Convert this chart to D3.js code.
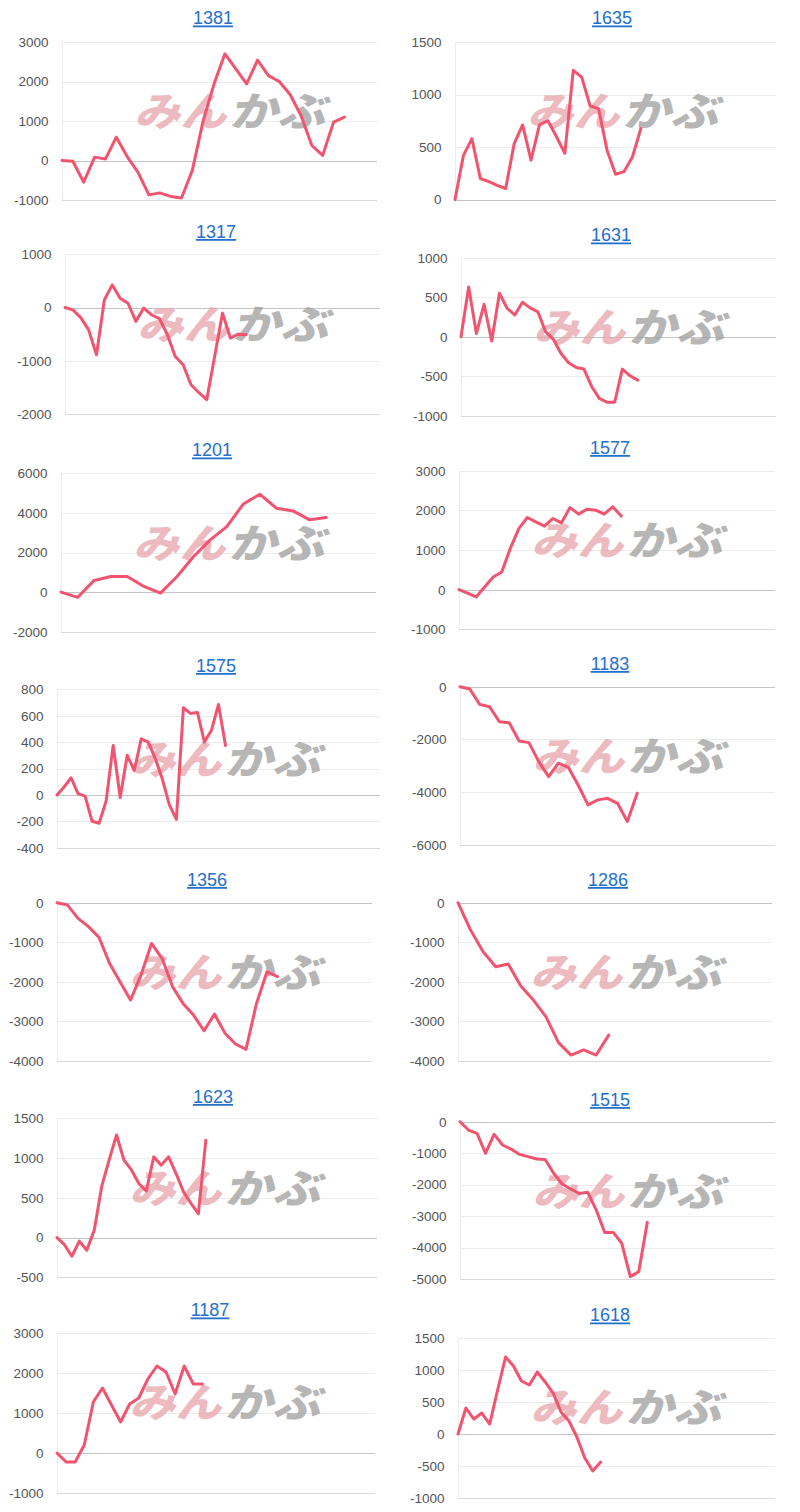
<!DOCTYPE html>
<html><head><meta charset="utf-8">
<script src="https://cdn.jsdelivr.net/npm/d3@7/dist/d3.min.js"></script>
<style>
html,body{margin:0;padding:0;background:#fff;}
svg{display:block;}
</style></head>
<body>
<svg id="c" width="800" height="1512"></svg>
<script>
// ---- data ----
const codes = ["1381","1635","1317","1631","1201","1577","1575","1183","1356","1286","1623","1515","1187","1618"];

const s1381 = [0,-20,-550,85,40,590,100,-300,-870,-820,-910,-950,-250,1010,1940,2700,2320,1940,2540,2150,2000,1670,1140,380,130,970,1100];
const s1635 = [0,420,580,200,170,135,105,530,710,375,710,750,600,440,1230,1165,890,865,470,240,265,405,675];
const s1317 = [0,-45,-190,-420,-890,145,425,175,80,-260,-10,-140,-210,-510,-920,-1075,-1450,-1600,-1730,-920,-105,-575,-500,-510];
const s1631 = [0,630,40,410,-55,550,360,275,435,365,315,65,-30,-210,-330,-390,-410,-630,-780,-830,-830,-410,-495,-550];
const s1201 = [0,-270,590,790,790,285,-50,790,1800,2640,3310,4450,4940,4235,4100,3650,3765];
const s1577 = [0,-90,-185,65,320,445,1035,1540,1820,1710,1600,1795,1685,2070,1905,2030,2005,1905,2090,1855];
const s1575 = [0,60,130,10,-10,-200,-215,-45,375,-20,300,185,425,400,275,120,-75,-185,660,617,625,400,490,685,375];
const s1183 = [0,-90,-670,-760,-1325,-1365,-2060,-2120,-2840,-3410,-2900,-3055,-3725,-4480,-4290,-4230,-4420,-5110,-4040];
const s1356 = [0,-60,-395,-605,-875,-1530,-2000,-2460,-1830,-1030,-1405,-2120,-2545,-2840,-3235,-2815,-3300,-3570,-3705,-2545,-1745,-1870];
const s1286 = [0,-690,-1240,-1620,-1550,-2105,-2460,-2880,-3535,-3850,-3720,-3850,-3345];
const s1623 = [0,-90,-235,-45,-160,90,640,975,1290,975,850,680,585,1015,910,1015,805,575,430,300,1225];
const s1515 = [0,-265,-370,-1005,-400,-740,-870,-1040,-1110,-1185,-1200,-1640,-1980,-2140,-2280,-2245,-2805,-3520,-3520,-3865,-4925,-4765,-3200];
const s1187 = [0,-225,-225,200,1275,1625,1200,775,1225,1375,1850,2175,2025,1475,2175,1725,1725];
const s1618 = [0,406,234,328,156,687,1203,1063,828,766,969,813,640,344,203,-47,-375,-578,-438];

const series = [s1381,s1635,s1317,s1631,s1201,s1577,s1575,s1183,s1356,s1286,s1623,s1515,s1187,s1618];

// y-axis tick labels per chart
const yTicks = [
  [3000,2000,1000,0,-1000],
  [1500,1000,500,0],
  [1000,0,-1000,-2000],
  [1000,500,0,-500,-1000],
  [6000,4000,2000,0,-2000],
  [3000,2000,1000,0,-1000],
  [800,600,400,200,0,-200,-400],
  [0,-2000,-4000,-6000],
  [0,-1000,-2000,-3000,-4000],
  [0,-1000,-2000,-3000,-4000],
  [1500,1000,500,0,-500],
  [0,-1000,-2000,-3000,-4000,-5000],
  [3000,2000,1000,0,-1000],
  [1500,1000,500,0,-500,-1000]
];

// number of day slots on each x axis
const slots = [29,38,40,41,19,37,46,32,30,25,43,37,35,40];

// ---- layout (positions only) ----
const layout = [
  {L:62, R:377, T:42,    B:200,    tx:213, ty:18},
  {L:455,R:776, T:42,    B:199.5,  tx:612, ty:18},
  {L:65, R:380, T:254.3, B:414,    tx:216, ty:231.5},
  {L:461,R:776, T:257.7, B:415.7,  tx:611, ty:235},
  {L:61, R:376, T:473.3, B:631.7,  tx:212, ty:450},
  {L:459,R:775, T:470.7, B:629.3,  tx:610, ty:447.5},
  {L:57, R:380, T:689.3, B:847.7,  tx:216, ty:665.5},
  {L:460,R:775, T:686.7, B:845,    tx:610, ty:663.5},
  {L:57, R:372, T:902.7, B:1061,   tx:207, ty:879.5},
  {L:458,R:772, T:902.7, B:1061,   tx:608, ty:879.5},
  {L:57, R:377, T:1118.3,B:1277.3, tx:213, ty:1096.5},
  {L:460,R:775, T:1121.7,B:1279,   tx:610, ty:1099.5},
  {L:57, R:375, T:1333,  B:1493,   tx:210, ty:1310},
  {L:458,R:775, T:1338,  B:1498,   tx:610, ty:1315}
];

const svg = d3.select("#c");
const FONT = "'Liberation Sans', Arial, Helvetica, sans-serif";

codes.forEach((code, k) => {
  const lay = layout[k];
  const data = series[k];
  const ticks = yTicks[k];
  const g = svg.append("g");

  const y = d3.scaleLinear().domain([d3.min(ticks), d3.max(ticks)]).range([lay.B, lay.T]);
  const x = d3.scaleLinear().domain([0, slots[k]]).range([lay.L, lay.R]);

  // gridlines
  const minT = d3.min(ticks);
  g.selectAll("line.grid").data(ticks).join("line")
    .attr("x1", lay.L).attr("x2", lay.R)
    .attr("y1", d => Math.round(y(d)) + 0.5).attr("y2", d => Math.round(y(d)) + 0.5)
    .attr("stroke", d => d === 0 ? "#c4c4c4" : (d === minT ? "#d9d9d9" : "#ebebeb"))
    .attr("stroke-width", 1);

  // left vertical line
  g.append("line")
    .attr("x1", Math.round(lay.L) + 0.5).attr("x2", Math.round(lay.L) + 0.5)
    .attr("y1", lay.T).attr("y2", lay.B)
    .attr("stroke", "#ececec").attr("stroke-width", 1);

  // y tick labels
  g.selectAll("text.tick").data(ticks).join("text")
    .attr("x", lay.L - 13.5)
    .attr("y", d => y(d))
    .attr("dy", "0.36em")
    .attr("text-anchor", "end")
    .attr("font-family", FONT)
    .attr("font-size", 13.5)
    .attr("fill", "#555")
    .text(d => d);

  // watermark
  const wx = lay.L + 171, wy = lay.T + 70;
  const wm = g.append("g").attr("transform", `translate(${wx},${wy}) skewX(-14)`);
  wm.append("text")
    .attr("x", -95).attr("y", 0).attr("dy", "0.36em")
    .attr("textLength", 92).attr("lengthAdjust", "spacingAndGlyphs")
    .attr("font-family", "'Noto Sans CJK JP', sans-serif")
    .attr("font-weight", 900).attr("font-size", 40)
    .attr("fill", "#e6a3aa").attr("fill-opacity", 0.75)
    .text("みん");
  wm.append("text")
    .attr("x", 0).attr("y", 0).attr("dy", "0.36em")
    .attr("textLength", 96).attr("lengthAdjust", "spacingAndGlyphs")
    .attr("font-family", "'Noto Sans CJK JP', sans-serif")
    .attr("font-weight", 900).attr("font-size", 40)
    .attr("fill", "#9e9e9e").attr("fill-opacity", 0.75)
    .text("かぶ");

  // data line
  const line = d3.line().x((d, i) => x(i)).y(d => y(d));
  g.append("path")
    .datum(data)
    .attr("d", line)
    .attr("fill", "none")
    .attr("stroke", "#f2546f")
    .attr("stroke-width", 3)
    .attr("stroke-linejoin", "round")
    .attr("stroke-linecap", "round");

  // title
  g.append("text")
    .attr("x", lay.tx).attr("y", lay.ty)
    .attr("dy", "0.36em")
    .attr("text-anchor", "middle")
    .attr("font-family", FONT)
    .attr("font-size", 18)
    .attr("fill", "#2470cc")
    .attr("text-decoration", "underline")
    .text(code);
});
</script>
</body></html>
